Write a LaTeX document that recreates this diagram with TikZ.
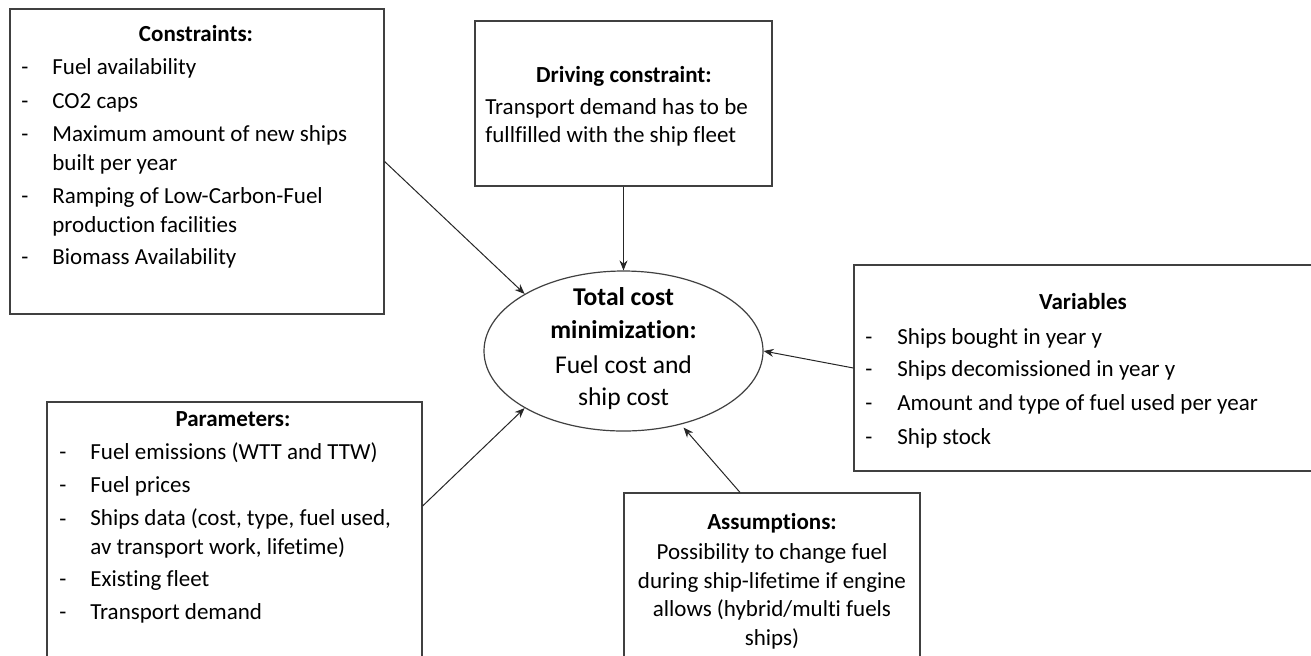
\documentclass[tikz,border=0pt]{standalone}
\usepackage{fontspec}
\setmainfont{Carlito}[Ligatures=NoCommon]
\usetikzlibrary{arrows.meta, shapes.geometric}

\begin{document}
\begin{tikzpicture}[x=0.5pt, y=-0.5pt]
					\tikzstyle{box} = [rectangle, draw=black!75, line width=0.6pt, inner sep=0pt]
					\tikzstyle{head} = [anchor=base, inner sep=0pt, font=\fontsize{11.5}{14.5}\selectfont\bfseries]
					\tikzstyle{item} = [anchor=base west, align=left, inner sep=0pt, font=\fontsize{11.5}{14.5}\selectfont]
					\tikzstyle{txt} = [anchor=base, align=center, inner sep=0pt, font=\fontsize{11.5}{14.25}\selectfont]
					\tikzstyle{link} = [-{Stealth[length=5pt,width=4pt]}, draw=black!85, line width=0.5pt]
					\useasboundingbox (0,0) rectangle (1311,655);
					\node[box,minimum width=187pt,minimum height=152.5pt] (cons) at (197,161.5) {};
					\node[box,minimum width=148.5pt,minimum height=82.5pt] (drive) at (623.5,103.5) {};
					\node[ellipse,draw=black!75,line width=0.6pt,inner sep=0pt,minimum width=139.5pt,minimum height=80pt] (goal) at (623.5,351) {};
					\node[box,minimum width=229pt,minimum height=103pt] (vars) at (1083,368) {};
					\node[box,minimum width=187.5pt,minimum height=129pt] (params) at (234.5,531) {};
					\node[box,minimum width=148pt,minimum height=83.5pt] (assume) at (772,576.5) {};
					\node[head] (consh) at (196,41) {Constraints:};
					\foreach \y/\d/\t [count=\i] in {74/74/Fuel availability, 108/108/CO2 caps, 170/141/{Maximum amount of new ships\\built per year}, 232/203/{Ramping of Low-Carbon-Fuel\\production facilities}, 264/264/Biomass Availability} {
						\node[item] (consd\i) at (21,\d) {-};
						\node[item] (const\i) at (52,\y) {\t};
					}
					\node[head] (driveh) at (624,82) {Driving constraint:};
					\node[item,font=\fontsize{11.5}{14}\selectfont] (drivet) at (485,142) {Transport demand has to be\\fullfilled with the ship fleet};
					\node[txt,font=\fontsize{12.8}{16.5}\selectfont\bfseries] (goalh) at (623.5,338) {Total cost\\minimization:};
					\node[txt,font=\fontsize{12.8}{16}\selectfont] (goalt) at (623.5,405) {Fuel cost and\\ship cost};
					\node[head] (varsh) at (1083,309) {Variables};
					\foreach \y/\t [count=\i] in {344/Ships bought in year y, 376/Ships decomissioned in year y, 410/Amount and type of fuel used per year, 444/Ship stock} {
						\node[item] (varsd\i) at (865,\y) {-};
						\node[item] (varst\i) at (897,\y) {\t};
					}
					\node[head] (paramsh) at (233,426) {Parameters:};
					\foreach \y/\d/\t [count=\i] in {459/459/Fuel emissions (WTT and TTW), 492/492/Fuel prices, 554/526/{Ships data (cost, type, fuel used,\\av transport work, lifetime)}, 586/586/Existing fleet, 619/619/Transport demand} {
						\node[item] (paramsd\i) at (59,\d) {-};
						\node[item] (paramst\i) at (90,\y) {\t};
					}
					\node[head] (assumeh) at (772,529) {Assumptions:};
					\node[txt] (assumet) at (772,645) {Possibility to change fuel\\during ship-lifetime if engine\\allows (hybrid/multi fuels\\ships)};
					\draw[link] (cons.east)--(goal.150);
					\draw[link] (drive.south)--(goal.north);
					\draw[link] (vars.west)--(goal.east);
					\draw[link] ([yshift=12.5pt]params.east)--(goal.210);
					\draw[link,shorten >=2pt] ([xshift=-16pt]assume.north)--(goal.-52);
					\end{tikzpicture}
\end{document}
